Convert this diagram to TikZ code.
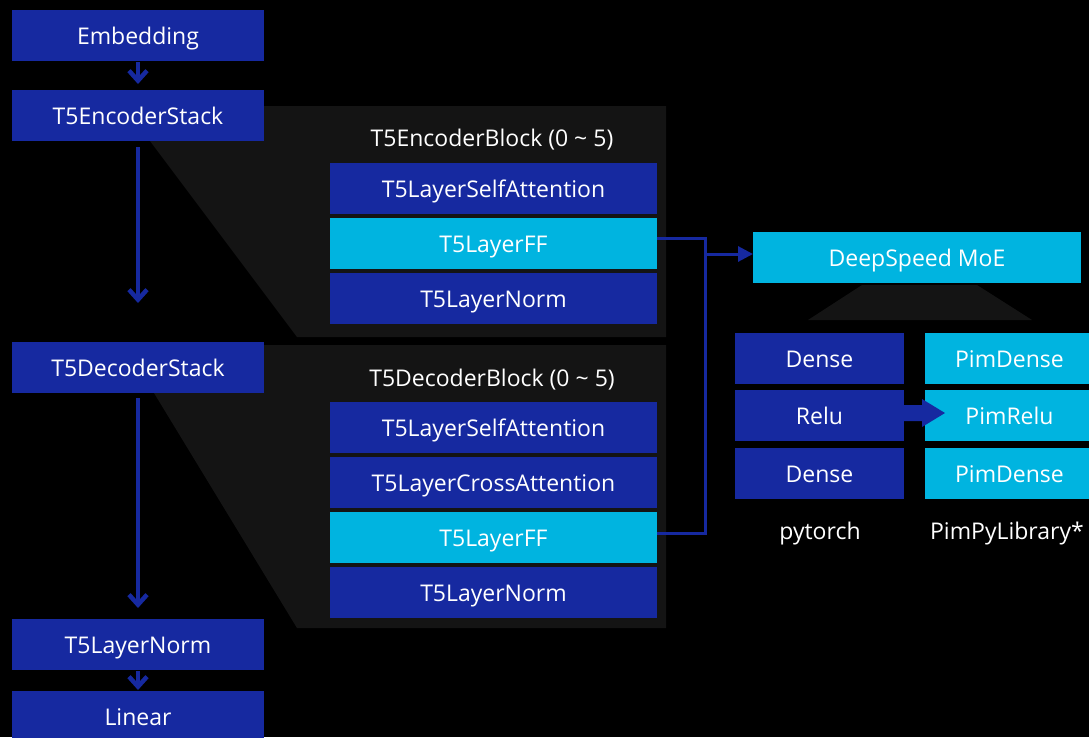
\documentclass[tikz,border=0pt]{standalone}
\usepackage{fontspec}
\setmainfont{Open Sans}
\usetikzlibrary{arrows.meta}
\definecolor{navy}{RGB}{22,41,160}
\definecolor{sky}{RGB}{0,180,224}
\definecolor{panel}{RGB}{20,20,20}
\begin{document}
\begin{tikzpicture}[x=1pt,y=-1pt,
  every node/.style={text=white, font=\fontsize{23}{26}\selectfont, inner sep=0pt, outer sep=0pt,
    text height=20pt, text depth=2pt},
  dbox/.style={fill=navy, minimum height=51pt},
  cbox/.style={fill=sky, minimum height=51pt},
  wide/.style={minimum width=252pt},
  layer/.style={minimum width=327pt},
  small/.style={minimum width=169pt},
  flow/.style={draw=navy, line width=4.5pt, -{Straight Barb[length=10pt,width=18pt]}},
  link/.style={draw=navy, line width=3pt},
]
% canvas
\fill[black] (0,0) rectangle (1089,737);
\useasboundingbox (0,0) rectangle (1089,737);

% zoom-out panels behind the block details
\fill[panel] (152,106) -- (666,106) -- (666,337) -- (297,337) -- (150,141) -- cycle;
\fill[panel] (154,345) -- (666,345) -- (666,628) -- (297,628) -- (154,393) -- cycle;
\fill[panel] (862,285) -- (977,285) -- (1032,320) -- (808,320) -- cycle;

% main stack
\node[dbox,wide] (emb)   at (138,35.5)  {Embedding};
\node[dbox,wide] (enc)   at (138,115.5) {T5EncoderStack};
\node[dbox,wide] (dec)   at (138,367.5) {T5DecoderStack};
\node[dbox,wide] (lnorm) at (138,644.5) {T5LayerNorm};
\node[dbox,wide] (lin)   at (138,716.5) {Linear};

% encoder block
\node (etitle) at (492,137) {T5EncoderBlock (0 \textasciitilde{} 5)};
\node[dbox,layer] (eSA) at (493.5,188.5) {T5LayerSelfAttention};
\node[cbox,layer] (eFF) at (493.5,243.5) {T5LayerFF};
\node[dbox,layer] (eLN) at (493.5,298.5) {T5LayerNorm};

% decoder block
\node (dtitle) at (492,377) {T5DecoderBlock (0 \textasciitilde{} 5)};
\node[dbox,layer] (dSA) at (493.5,427.5) {T5LayerSelfAttention};
\node[dbox,layer] (dCA) at (493.5,482.5) {T5LayerCrossAttention};
\node[cbox,layer] (dFF) at (493.5,537.5) {T5LayerFF};
\node[dbox,layer] (dLN) at (493.5,592.5) {T5LayerNorm};

% MoE expansion
\node[cbox,minimum width=328pt] (moe) at (917,257.5) {DeepSpeed MoE};
\node[dbox,small] (dense1) at (819.5,358.5) {Dense};
\node[dbox,small] (relu)   at (819.5,415.5) {Relu};
\node[dbox,small] (dense2) at (819.5,473.5) {Dense};
\node[cbox,small] (pdense1) at (1009.5,358.5) {PimDense};
\node[cbox,small] (prelu)   at (1009.5,415.5) {PimRelu};
\node[cbox,small] (pdense2) at (1009.5,473.5) {PimDense};
\node (pyt)    at (820,530)  {pytorch};
\node (pimlib) at (1007,530) {PimPyLibrary*};

% flow along the main stack
\draw[flow, shorten <=1pt, shorten >=6pt]  (emb.south)   -- (enc.north);
\draw[flow, shorten <=6pt, shorten >=39pt] (enc.south)   -- (dec.north);
\draw[flow, shorten <=5pt, shorten >=11pt] (dec.south)   -- (lnorm.north);
\draw[flow, shorten <=1pt, shorten >=1pt]  (lnorm.south) -- (lin.north);

% feed-forward layers routed to the MoE
\coordinate (busTop) at (705,238);
\coordinate (busBot) at (705,533);
\coordinate (tap)    at (705,254);
\draw[link] ([yshift=5.5pt]eFF.east) -- (busTop) -- (busBot) -- ([yshift=4.5pt]dFF.east);
\draw[link, -{Triangle[length=15pt,width=15pt]}] (tap) -- (tap -| moe.west);

% Relu replaced by PimRelu
\fill[navy] ([yshift=2.5pt]relu.east) ++(0,-8) -- ++(18,0) -- ++(0,-6) -- ++(23,14)
  -- ++(-23,14) -- ++(0,-6) -- ++(-18,0) -- cycle;
\end{tikzpicture}
\end{document}
